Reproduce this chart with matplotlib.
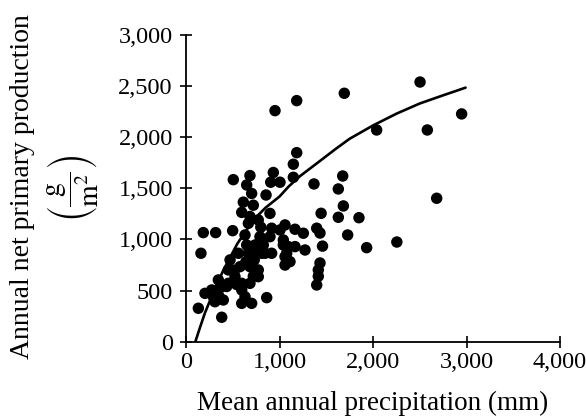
import matplotlib
matplotlib.use("Agg")
import matplotlib.pyplot as plt
from matplotlib.ticker import FuncFormatter

plt.rcParams['font.family'] = ['Liberation Serif', 'DejaVu Serif']
plt.rcParams['mathtext.fontset'] = 'stix'

# Mean annual precipitation (mm) and annual net primary production (g/m^2)
precip = [952, 1184, 1693, 2503, 2948, 2581, 2039, 1184, 1148, 1148,
          934, 906, 1005, 684, 506, 649, 856, 702, 613, 720,
          596, 684, 773, 898, 1369, 1676, 1629, 1683, 1445, 1629,
          1850, 2681, 1729, 1433, 1460, 1932, 2255, 185, 317, 499,
          160, 800, 916, 1005, 1059, 1166, 1255, 1398, 791, 1041,
          1094, 1166, 1273, 1059, 1059, 810, 916, 773, 773, 1415,
          1415, 1398, 1433, 863, 382, 132, 203, 292, 346, 346,
          453, 596, 702, 578, 684, 471, 560, 666, 756, 845,
          649, 738, 827, 596, 684, 596, 631, 453, 524, 382,
          275, 310, 399, 1112, 1041, 898, 631, 667, 520, 720,
          640, 730, 540, 435, 1077]
npp = [2260, 2358, 2430, 2540, 2228, 2071, 2071, 1849, 1736, 1608,
       1655, 1560, 1560, 1625, 1585, 1533, 1435, 1450, 1365, 1335,
       1265, 1225, 1191, 1255, 1543, 1621, 1494, 1328, 1256, 1217,
       1213, 1403, 1044, 1063, 935, 920, 975, 1067, 1067, 1086,
       865, 1120, 1110, 1093, 1142, 1100, 1061, 1110, 1027, 995,
       930, 930, 897, 832, 750, 865, 865, 702, 636, 702,
       640, 555, 770, 431, 239, 327, 473, 440, 457, 604,
       702, 375, 375, 734, 734, 800, 865, 865, 865, 865,
       946, 946, 946, 571, 571, 506, 440, 571, 636, 538,
       506, 391, 408, 783, 946, 1027, 1044, 1158, 700, 640,
       780, 800, 560, 540, 865]

# Fitted curve
curve_x = [100, 150, 200, 300, 400, 550, 720, 850, 1000, 1100, 1220, 1450,
           1600, 1750, 2000, 2250, 2500, 2750, 2990]
curve_y = [0, 140, 275, 500, 700, 960, 1190, 1310, 1420, 1520, 1620, 1780,
           1885, 1985, 2115, 2230, 2330, 2410, 2485]

x_ticks = [0, 1000, 2000, 3000, 4000]
y_ticks = [0, 500, 1000, 1500, 2000, 2500, 3000]

fig = plt.figure(figsize=(5.86, 4.17), dpi=100)
ax = fig.add_axes([186/586, 1 - 341.7/417, (560-186)/586, (341.7-35)/417])

ax.scatter(precip, npp, s=68, color='black', edgecolors='none', zorder=3, clip_on=False)
ax.plot(curve_x, curve_y, color='black', lw=1.9, zorder=4,
        solid_capstyle='round', solid_joinstyle='round')

ax.set_xlim(0, 4000)
ax.set_ylim(0, 3000)
ax.set_xticks(x_ticks)
ax.set_yticks(y_ticks)
fmt = FuncFormatter(lambda v, p: f"{int(v):,}")
ax.xaxis.set_major_formatter(fmt)
ax.yaxis.set_major_formatter(fmt)

for s in ['top', 'right']:
    ax.spines[s].set_visible(False)
for s in ['left', 'bottom']:
    ax.spines[s].set_linewidth(1.3)
    ax.spines[s].set_color('black')

ax.tick_params(axis='both', direction='inout', length=9, width=1.2, labelsize=17.5, colors='black')
ax.tick_params(axis='y', pad=5)
ax.tick_params(axis='x', pad=3)
for t in ax.get_xticklines() + ax.get_yticklines():
    t.set_clip_on(False)

fig.text(373/586, 1 - 403/417, 'Mean annual precipitation (mm)', ha='center', va='center', fontsize=19.5)
fig.text(23/586, 1 - 187/417, 'Annual net primary production', rotation=90, ha='center', va='center', fontsize=20)
fig.text(73/586, 1 - 188/417, r'$\left(\dfrac{\mathrm{g}}{\mathrm{m}^2}\right)$', rotation=90,
         ha='center', va='center', fontsize=20)

fig.savefig('out.png', dpi=100, facecolor='white')
